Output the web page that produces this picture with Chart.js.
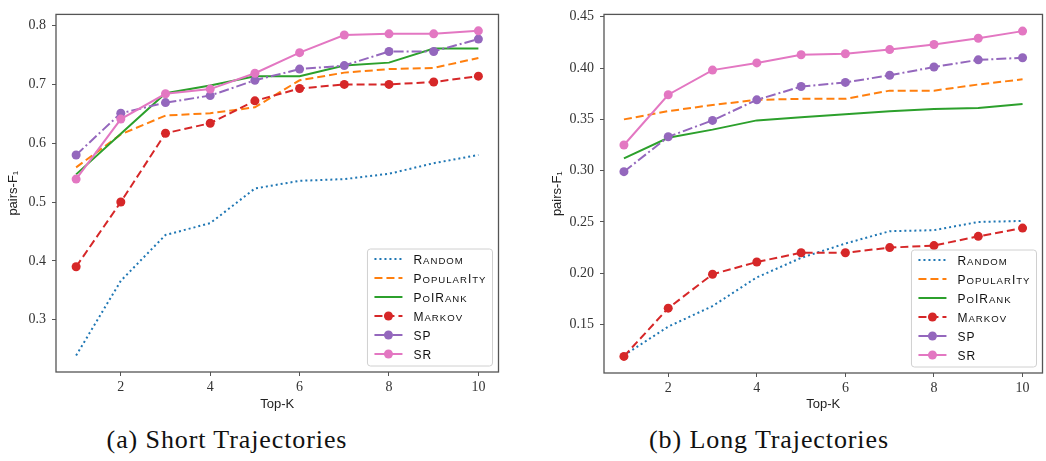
<!DOCTYPE html>
<html>
<head>
<meta charset="utf-8">
<script src="https://cdn.jsdelivr.net/npm/chart.js"></script>
<style>
  body { margin: 0; width: 1046px; height: 461px; overflow: hidden; background: #fff; position: relative; }
  .panel { position: absolute; top: 0; height: 412px; }
  #shortWrap { left: 0; width: 503px; }
  #longWrap { left: 548px; width: 499px; }
  .caption { position: absolute; top: 427px; font-family: "Liberation Serif", serif; font-size: 26px; letter-spacing: 0.9px; line-height: 1; color: #111; transform: translateX(-50%); white-space: nowrap; }
</style>
</head>
<body>
<div class="panel" id="shortWrap"><canvas id="shortChart"></canvas></div>
<div class="panel" id="longWrap"><canvas id="longChart"></canvas></div>
<div class="caption" style="left:227px">(a) Short Trajectories</div>
<div class="caption" style="left:769px">(b) Long Trajectories</div>
<script>
const topK = [1, 2, 3, 4, 5, 6, 7, 8, 9, 10];
const xTicks = [2, 4, 6, 8, 10];
const seriesNames = ['Random', 'Popularity', 'PoiRank', 'Markov', 'SP', 'SR'];

// short trajectories
const shortYTicks = [0.3, 0.4, 0.5, 0.6, 0.7, 0.8];
const shortRandom = [0.239, 0.366, 0.444, 0.464, 0.523, 0.536, 0.539, 0.548, 0.566, 0.580];
const shortPopularity = [0.559, 0.615, 0.647, 0.651, 0.661, 0.707, 0.720, 0.726, 0.728, 0.745];
const shortPoiRank = [0.547, 0.616, 0.685, 0.698, 0.714, 0.714, 0.732, 0.737, 0.761, 0.761];
const shortMarkov = [0.390, 0.500, 0.617, 0.634, 0.672, 0.693, 0.700, 0.700, 0.704, 0.714];
const shortSP = [0.580, 0.651, 0.669, 0.681, 0.707, 0.726, 0.732, 0.756, 0.756, 0.777];
const shortSR = [0.539, 0.641, 0.684, 0.692, 0.719, 0.754, 0.784, 0.786, 0.786, 0.791];

// long trajectories
const longYTicks = [0.15, 0.20, 0.25, 0.30, 0.35, 0.40, 0.45];
const longRandom = [0.120, 0.148, 0.168, 0.196, 0.215, 0.229, 0.241, 0.242, 0.250, 0.251];
const longPopularity = [0.350, 0.358, 0.364, 0.369, 0.370, 0.370, 0.378, 0.378, 0.384, 0.389];
const longPoiRank = [0.312, 0.332, 0.340, 0.349, 0.352, 0.355, 0.358, 0.360, 0.361, 0.365];
const longMarkov = [0.119, 0.166, 0.199, 0.211, 0.220, 0.220, 0.225, 0.227, 0.236, 0.244];
const longSP = [0.299, 0.333, 0.349, 0.369, 0.382, 0.386, 0.393, 0.401, 0.408, 0.410];
const longSR = [0.325, 0.374, 0.398, 0.405, 0.413, 0.414, 0.418, 0.423, 0.429, 0.436];

const colors = ['#1f77b4', '#ff7f0e', '#2ca02c', '#d62728', '#9467bd', '#e377c2'];
const dashes = [[2, 3], [8, 4], [], [8, 4], [10, 3, 2, 3], []];
const markers = [0, 0, 0, 4.5, 4.5, 4.5];

const tickFont = { family: '"Liberation Serif", serif', size: 14 };
const labelFont = { family: '"Liberation Sans", sans-serif', size: 13 };

// small caps like LaTeX \textsc, letter by letter (the i comes out as a full I, as in the paper)
function smallCaps(ctx, text, x, y, size, draw) {
    let cx = x;
    for (const ch of text) {
        const small = ch !== ch.toUpperCase() && ch !== 'i';
        const c = ch.toUpperCase();
        ctx.font = (small ? size * 0.8 : size) + 'px "Liberation Sans", sans-serif';
        if (draw) ctx.fillText(c, cx, y);
        cx += ctx.measureText(c).width + 1;
    }
    return cx - x - 1;
}

// frame round the plot + legend in the lower right corner
const framePlugin = {
    id: 'frameAndLegend',
    afterDraw(chart) {
        const ctx = chart.ctx;
        const area = chart.chartArea;
        ctx.save();
        ctx.strokeStyle = '#555';
        ctx.lineWidth = 1.3;
        ctx.strokeRect(area.left, area.top, area.right - area.left, area.bottom - area.top);

        const sets = chart.data.datasets;
        const textW = Math.max(...sets.map(d => smallCaps(ctx, d.label, 0, 0, 12, false)));
        const rowH = 19;
        const w = 46 + textW + 7;
        const h = rowH * sets.length + 3;
        const bx = area.right - 6 - w;
        const by = area.bottom - 6 - h;

        ctx.beginPath();
        ctx.roundRect(bx, by, w, h, 3);
        ctx.fillStyle = 'rgba(255,255,255,0.85)';
        ctx.fill();
        ctx.strokeStyle = '#d0d0d0';
        ctx.lineWidth = 1;
        ctx.stroke();

        sets.forEach((d, i) => {
            const cy = by + 10 + i * rowH;
            ctx.strokeStyle = d.borderColor;
            ctx.lineWidth = d.borderWidth;
            ctx.setLineDash(d.borderDash);
            ctx.beginPath();
            ctx.moveTo(bx + 7, cy);
            ctx.lineTo(bx + 35, cy);
            ctx.stroke();
            ctx.setLineDash([]);
            if (d.pointRadius > 0) {
                ctx.beginPath();
                ctx.arc(bx + 21, cy, d.pointRadius, 0, Math.PI * 2);
                ctx.fillStyle = d.borderColor;
                ctx.fill();
            }
            ctx.fillStyle = '#111';
            ctx.textBaseline = 'alphabetic';
            ctx.textAlign = 'left';
            smallCaps(ctx, d.label, bx + 46, cy + 4.5, 12, true);
        });
        ctx.restore();
    }
};

function makeChart(id, values, yTicks, yMin, yMax, decimals, cfg) {
    const datasets = seriesNames.map((name, i) => ({
        label: name,
        data: topK.map((k, j) => ({ x: k, y: values[i][j] })),
        borderColor: colors[i],
        backgroundColor: colors[i],
        borderWidth: 2,
        borderDash: dashes[i],
        pointRadius: markers[i],
        pointHoverRadius: markers[i],
        pointBorderWidth: 0,
        tension: 0,
        order: seriesNames.length - i
    }));

    return new Chart(document.getElementById(id), {
        type: 'line',
        data: { datasets: datasets },
        options: {
            responsive: true,
            maintainAspectRatio: false,
            animation: false,
            layout: { padding: { top: cfg.top, left: 0, right: 0, bottom: 0 } },
            plugins: { legend: { display: false }, tooltip: { enabled: false } },
            scales: {
                x: {
                    type: 'linear',
                    min: 0.55,
                    max: 10.45,
                    afterBuildTicks: s => { s.ticks = xTicks.map(v => ({ value: v })); },
                    afterFit: s => { s.height = cfg.xHeight; },
                    ticks: { font: tickFont, color: '#333', padding: 3, maxRotation: 0, callback: v => String(v) },
                    grid: { drawOnChartArea: false, drawTicks: true, tickLength: 4, color: '#555' },
                    border: { display: false },
                    title: { display: true, text: 'Top-K', font: labelFont, color: '#222', padding: { top: 0, bottom: 0 } }
                },
                y: {
                    type: 'linear',
                    min: yMin,
                    max: yMax,
                    afterBuildTicks: s => { s.ticks = yTicks.map(v => ({ value: v })); },
                    afterFit: s => { s.width = cfg.yWidth; },
                    ticks: { font: tickFont, color: '#333', padding: 6, callback: v => v.toFixed(decimals) },
                    grid: { drawOnChartArea: false, drawTicks: true, tickLength: 4, color: '#555' },
                    border: { display: false },
                    title: { display: true, text: 'pairs-F₁', font: labelFont, color: '#222', padding: { top: cfg.titlePad, bottom: 0 } }
                }
            }
        },
        plugins: [framePlugin]
    });
}

makeChart('shortChart',
    [shortRandom, shortPopularity, shortPoiRank, shortMarkov, shortSP, shortSR],
    shortYTicks, 0.211, 0.819, 1,
    { top: 10, xHeight: 40, yWidth: 56, titlePad: 6 });

makeChart('longChart',
    [longRandom, longPopularity, longPoiRank, longMarkov, longSP, longSR],
    longYTicks, 0.1028, 0.4523, 2,
    { top: 13, xHeight: 39, yWidth: 56, titlePad: 2 });
</script>
</body>
</html>
